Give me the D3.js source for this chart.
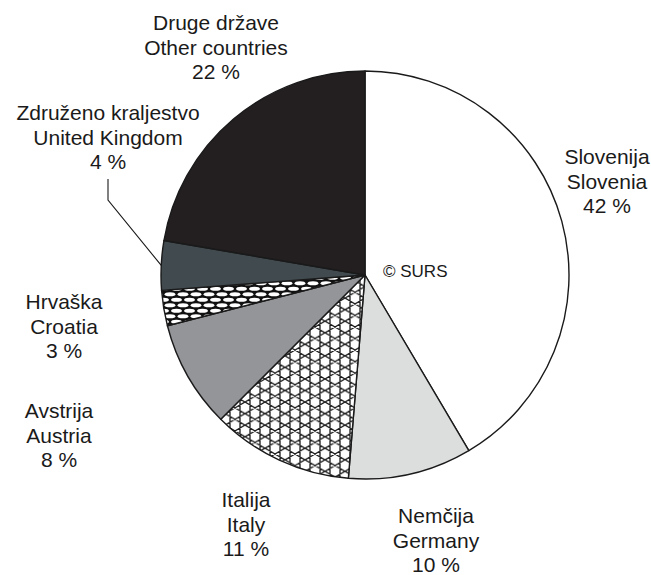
<!DOCTYPE html>
<html>
<head>
<meta charset="utf-8">
<script src="https://cdn.jsdelivr.net/npm/d3@7"></script>
<style>
  body { margin: 0; background: #fff; }
  text { font-family: Arial, "Liberation Sans", sans-serif; fill: #1a1a1a; }
</style>
</head>
<body>
<div class="chart"></div>
<script>
// -----------------------------------------------------------------------
// Data
// -----------------------------------------------------------------------

// slices in drawing order, clockwise from 12 o'clock
const namesSl = ["Slovenija", "Nemčija", "Italija", "Avstrija", "Hrvaška", "Združeno kraljestvo", "Druge države"];
const namesEn = ["Slovenia", "Germany", "Italy", "Austria", "Croatia", "United Kingdom", "Other countries"];
// shares
const shares = [41.5, 9.8, 11.2, 8.5, 2.8, 3.9, 22.3];
// rounded shares as printed on the labels
const shareLabels = ["42 %", "10 %", "11 %", "8 %", "3 %", "4 %", "22 %"];

const WIDTH = 651;
const HEIGHT = 575;
const CX = 365;
const CY = 275;
const RADIUS = 204;
const FONT_SIZE = 21;
const LINE_GAP = 24.5;

// fills per slice (patterns are defined below)
const fills = ["#ffffff", "#dcdddd", "url(#lattice)", "#939598", "url(#ovals)", "#414a4f", "#231f20"];

// label anchors: centre x and first baseline
const labelPos = [
  [607, 164], [436, 523], [246, 507], [59, 418], [64, 309], [108, 120], [216, 30]
];

// -----------------------------------------------------------------------
// Drawing
// -----------------------------------------------------------------------

const svg = d3.select(".chart")
  .append("svg")
  .attr("width", WIDTH)
  .attr("height", HEIGHT);

const defs = svg.append("defs");

// kagome style lattice used for Italy
const LW = 20, LH = 11.55;
const lat = defs.append("pattern")
  .attr("id", "lattice")
  .attr("patternUnits", "userSpaceOnUse")
  .attr("width", LW)
  .attr("height", LH);
lat.append("rect").attr("width", LW).attr("height", LH).attr("fill", "#fff");
lat.append("path")
  .attr("d", `M5,0V${LH}M15,0V${LH}` +
    `M0,${LH}L${LW},0M0,0L${LW},${LH}` +
    `M0,${2 * LH}L${LW},${LH}M0,${-LH}L${LW},0` +
    `M0,${LH}L${LW},${2 * LH}M0,0L${LW},${-LH}`)
  .attr("stroke", "#1a1a1a")
  .attr("stroke-width", 1.3)
  .attr("fill", "none");

// white ovals on black used for Croatia
const ov = defs.append("pattern")
  .attr("id", "ovals")
  .attr("patternUnits", "userSpaceOnUse")
  .attr("width", 13)
  .attr("height", 11);
ov.append("rect").attr("width", 13).attr("height", 11).attr("fill", "#111");
[[6.5, 2.75], [0, 8.25], [13, 8.25]].forEach(p => {
  ov.append("ellipse")
    .attr("cx", p[0]).attr("cy", p[1])
    .attr("rx", 5.4).attr("ry", 2)
    .attr("fill", "#fff");
});

const pie = d3.pie().sort(null).value(d => d);
const arc = d3.arc().innerRadius(0).outerRadius(RADIUS);

const g = svg.append("g").attr("transform", `translate(${CX},${CY})`);

g.selectAll("path.slice")
  .data(pie(shares))
  .join("path")
  .attr("class", "slice")
  .attr("d", arc)
  .attr("fill", (d, i) => fills[i])
  .attr("stroke", "#1a1a1a")
  .attr("stroke-width", 1.4)
  .attr("stroke-linejoin", "round");

// leader line for the United Kingdom label
const ukIdx = 5;
const ukArc = pie(shares)[ukIdx];
const ukAngle = (ukArc.startAngle + ukArc.endAngle) / 2;
const edge = [CX + RADIUS * Math.sin(ukAngle), CY - RADIUS * Math.cos(ukAngle)];
svg.append("path")
  .attr("d", `M${labelPos[ukIdx][0]},${labelPos[ukIdx][1] + 2 * LINE_GAP + 10}` +
    `v21L${edge[0]},${edge[1]}`)
  .attr("fill", "none")
  .attr("stroke", "#1a1a1a")
  .attr("stroke-width", 1.1);

// labels: Slovene name, English name, share
const labels = svg.append("g")
  .selectAll("text")
  .data(namesSl)
  .join("text")
  .attr("text-anchor", "middle")
  .attr("font-size", FONT_SIZE)
  .attr("x", (d, i) => labelPos[i][0])
  .attr("y", (d, i) => labelPos[i][1]);

labels.each(function (d, i) {
  const t = d3.select(this);
  [namesSl[i], namesEn[i], shareLabels[i]].forEach((line, k) => {
    t.append("tspan")
      .attr("x", labelPos[i][0])
      .attr("dy", k === 0 ? 0 : LINE_GAP)
      .text(line);
  });
});

svg.append("text")
  .attr("x", 383)
  .attr("y", 277)
  .attr("font-size", 17)
  .text("© SURS");
</script>
</body>
</html>
